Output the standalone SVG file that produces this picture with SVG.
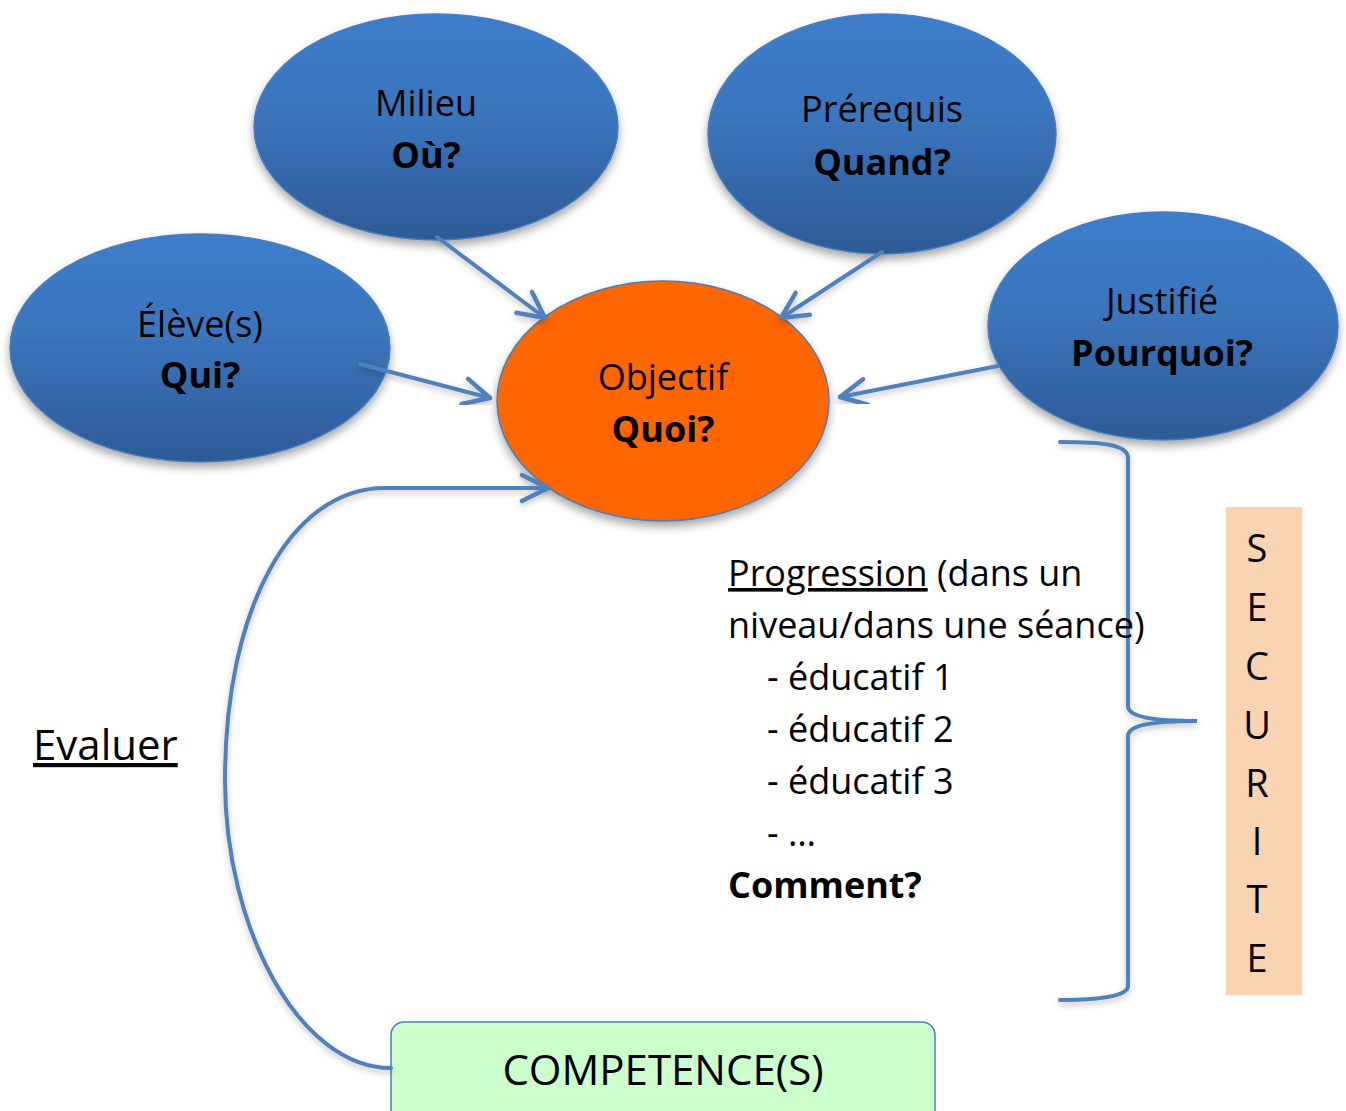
<svg xmlns="http://www.w3.org/2000/svg" width="1346" height="1111" viewBox="0 0 1346 1111">
<defs>
<linearGradient id="blue" x1="0" y1="0" x2="0" y2="1">
<stop offset="0" stop-color="#3D7DCA"/>
<stop offset="0.45" stop-color="#3A74BC"/>
<stop offset="1" stop-color="#2D5A96"/>
</linearGradient>
<filter id="sh" x="-20%" y="-20%" width="140%" height="150%">
<feDropShadow dx="0" dy="5" stdDeviation="5" flood-color="#000" flood-opacity="0.35"/>
</filter>
<filter id="lsh" x="-20%" y="-20%" width="140%" height="140%">
<feDropShadow dx="0" dy="3" stdDeviation="3" flood-color="#000" flood-opacity="0.25"/>
</filter>
<marker id="arr" viewBox="0 0 32 32" markerWidth="32" markerHeight="32" refX="29" refY="16" orient="auto" markerUnits="userSpaceOnUse">
<path d="M3,3 L29,16 L3,29" fill="none" stroke="#4F81BD" stroke-width="4.5" stroke-linecap="round" stroke-linejoin="round"/>
</marker>
</defs>
<style>
text{font-family:"Open Sans","Noto Sans","Liberation Sans",sans-serif;fill:#000;}
.lbl{font-size:36px;text-anchor:middle;}
.b{font-weight:bold;}
.ell{fill:url(#blue);stroke:#4A7EBB;stroke-width:1.5;filter:url(#sh);}
.con{fill:none;stroke:#4F81BD;stroke-width:4;stroke-linecap:round;}
.body{font-size:36px;}
.sec{font-size:38px;text-anchor:middle;}
</style>
<rect width="1346" height="1111" fill="#fff"/>

<g id="node-eleve">
<ellipse class="ell" cx="200" cy="348" rx="190" ry="114"/>
<text class="lbl" x="200" y="337">Élève(s)</text>
<text class="lbl b" x="200" y="388">Qui?</text>
</g>
<g id="node-milieu">
<ellipse class="ell" cx="436" cy="127" rx="182" ry="113"/>
<text class="lbl" x="426" y="116">Milieu</text>
<text class="lbl b" x="426" y="168">Où?</text>
</g>
<g id="node-prerequis">
<ellipse class="ell" cx="882" cy="134" rx="174" ry="120"/>
<text class="lbl" x="882" y="122">Prérequis</text>
<text class="lbl b" x="882" y="175">Quand?</text>
</g>
<g id="node-justifie">
<ellipse class="ell" cx="1163" cy="326" rx="175" ry="114"/>
<text class="lbl" x="1162" y="314">Justifié</text>
<text class="lbl b" x="1162" y="366">Pourquoi?</text>
</g>
<g id="node-objectif">
<ellipse cx="663" cy="401" rx="166" ry="120" fill="#FF6600" stroke="#4A7EBB" stroke-width="1.5" filter="url(#sh)"/>
<text class="lbl" x="663" y="390">Objectif</text>
<text class="lbl b" x="663" y="442">Quoi?</text>
</g>
<g id="node-competence">
<rect x="391" y="1022" width="544" height="110" rx="13" fill="#CCFFCC" stroke="#4A7EBB" stroke-width="1.5"/>
<text x="663" y="1085" font-size="42" text-anchor="middle">COMPETENCE(S)</text>
</g>
<g id="node-securite">
<rect x="1226" y="507" width="76" height="488" fill="#FAD3B2"/>
<text class="sec" x="1257" y="562">S</text>
<text class="sec" x="1257" y="621">E</text>
<text class="sec" x="1257" y="680">C</text>
<text class="sec" x="1257" y="739">U</text>
<text class="sec" x="1257" y="797">R</text>
<text class="sec" x="1257" y="855">I</text>
<text class="sec" x="1257" y="913">T</text>
<text class="sec" x="1257" y="972">E</text>
</g>

<g id="connectors">
<path class="con" d="M437,237 L545,318" marker-end="url(#arr)" filter="url(#lsh)"/>
<path class="con" d="M882,252 L781,318" marker-end="url(#arr)" filter="url(#lsh)"/>
<path class="con" d="M360,364 L490,398" marker-end="url(#arr)" filter="url(#lsh)"/>
<path class="con" d="M998,366 L840,397" marker-end="url(#arr)" filter="url(#lsh)"/>
<path class="con" d="M663,522 L663,1020" marker-end="url(#arr)" filter="url(#lsh)"/>
<path class="con" d="M391,1068 C300,1068 225,930 225,780 C225,610 290,488 385,488 L548,488" marker-end="url(#arr)" filter="url(#lsh)"/>
<path class="con" d="M1060,442 C1100,442 1128,444 1128,458 L1128,706 C1128,716 1150,721 1197,721 C1150,721 1128,726 1128,736 L1128,986 C1128,996 1100,1000 1060,1000" filter="url(#lsh)"/>
</g>

<g id="text-progression">
<text class="body" x="728" y="586"><tspan text-decoration="underline">Progression</tspan> (dans un</text>
<text class="body" x="728" y="638">niveau/dans une séance)</text>
<text class="body" x="767" y="690">- éducatif 1</text>
<text class="body" x="767" y="742">- éducatif 2</text>
<text class="body" x="767" y="794">- éducatif 3</text>
<text class="body" x="767" y="846">- …</text>
<text class="body b" x="728" y="898">Comment?</text>
</g>
<g id="text-evaluer">
<text x="33" y="760" font-size="42" text-decoration="underline">Evaluer</text>
</g>
</svg>
